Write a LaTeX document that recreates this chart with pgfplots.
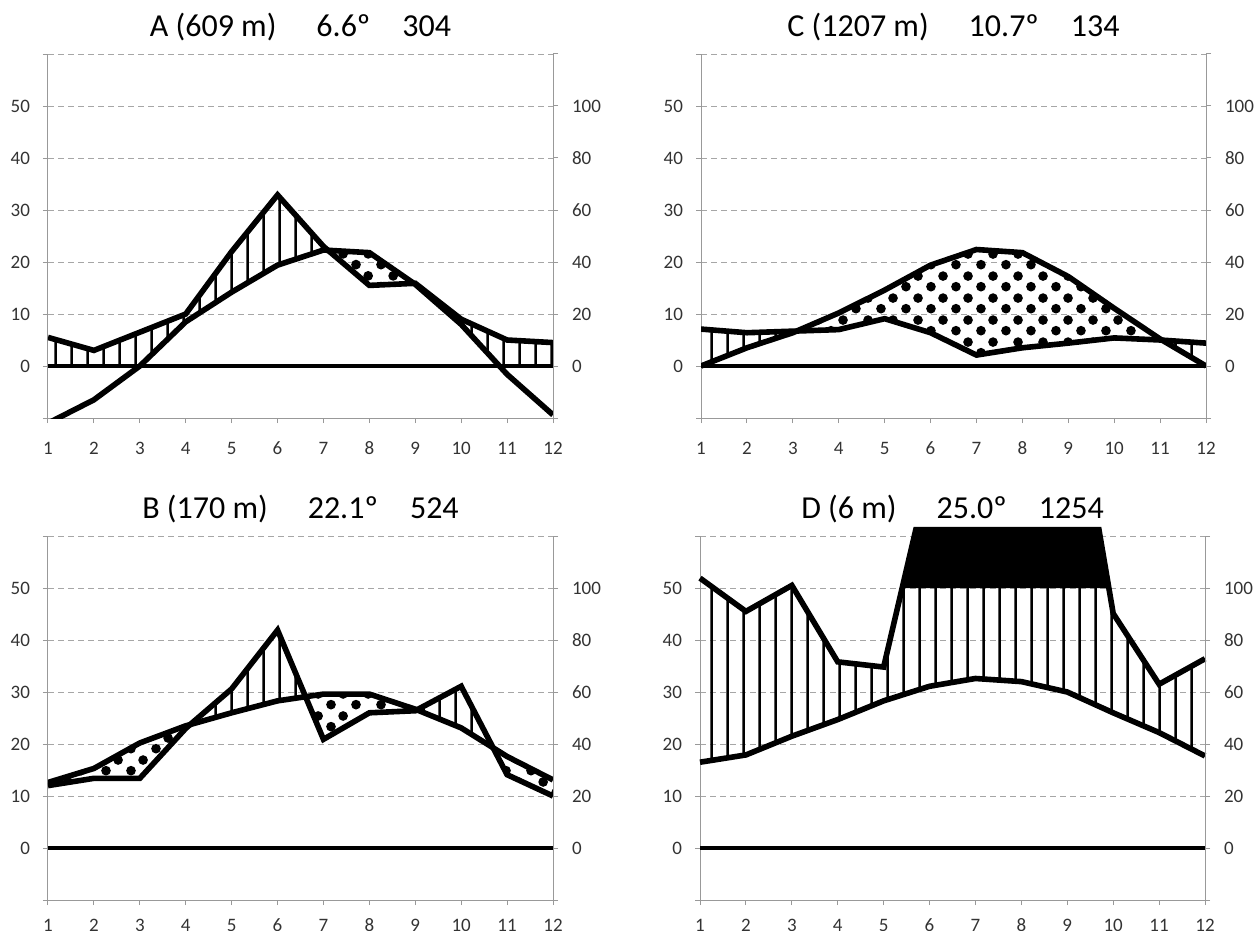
\documentclass[border=0pt]{standalone}
\usepackage{pgfplots}
\pgfplotsset{compat=1.18}
\usepackage{pgfplotstable}
\usetikzlibrary{patterns}
\usepackage{fontspec}
\setmainfont{Carlito}

\pgfdeclarepatternformonly{wlvl}{\pgfpoint{0pt}{0pt}}{\pgfpoint{8pt}{8pt}}{\pgfpoint{8pt}{8pt}}{%
  \pgfsetlinewidth{1.3pt}%
  \pgfpathmoveto{\pgfpoint{4pt}{-1pt}}\pgfpathlineto{\pgfpoint{4pt}{9pt}}\pgfusepath{stroke}}
\pgfdeclarepatternformonly{wldots}{\pgfpoint{0pt}{0pt}}{\pgfpoint{12.5pt}{11pt}}{\pgfpoint{12.5pt}{11pt}}{%
  \pgfpathcircle{\pgfpoint{3.1pt}{2.75pt}}{2.5pt}%
  \pgfpathcircle{\pgfpoint{9.35pt}{8.25pt}}{2.5pt}%
  \pgfusepath{fill}}

% monthly temperature (T, deg C) and precipitation/2 (P)
\pgfplotstableread{
m T P
1 -11 5.5
2 -6.5 3
3 0 6.5
4 8.5 10
5 14.2 22
6 19.4 32.9
7 22.3 23
8 21.8 15.5
9 15.7 15.9
10 8 9
11 -1.6 5
12 -9.4 4.5
}\dataA
\pgfplotstableread{
m T P
1 0 7.1
2 3.5 6.4
3 6.4 6.7
4 10.2 7
5 14.6 9.1
6 19.4 6.4
7 22.4 2.1
8 21.8 3.5
9 17.2 4.4
10 11.1 5.4
11 5.2 5.0
12 0 4.4
}\dataC
\pgfplotstableread{
m T P
1 12.6 12
2 15.3 13.4
3 20.2 13.4
4 23.5 23
5 26 30.6
6 28.3 41.9
7 29.6 20.9
8 29.6 26
9 26.7 26.4
10 23.1 31.1
11 17.6 14.1
12 13.1 10
}\dataB
\pgfplotstableread{
m T
1 16.5
2 17.9
3 21.5
4 24.7
5 28.3
6 31.1
7 32.6
8 32
9 30
10 26
11 22.2
12 17.7
}\dataDT
\pgfplotstableread{
m P
1 51.9
2 45.5
3 50.5
4 35.8
5 34.8
5.7 61.2
9.69 61.2
10 45.1
11 31.5
12 36.4
}\dataDP

\pgfplotsset{
  wlbase/.style={
    scale only axis, width=252.5pt, height=182pt,
    xmin=1, xmax=12,
    tick label style={font=\fontsize{9.5}{11}\selectfont, text=black!80},
    typeset ticklabels with strut,
    /pgf/number format/assume math mode=true,
    tick style={gray!80, line width=0.5pt},
    tick align=outside, major tick length=2.5pt,
    axis line style={gray!80, line width=0.5pt},
  },
  wlleft/.style={wlbase,
    ymin=-10, ymax=60,
    axis x line*=bottom, axis y line*=left,
    xtick={1,...,12},
    ytick={-10,0,...,60},
    yticklabels={,0,10,20,30,40,50,},
    yticklabel style={xshift=-3pt, yshift=-1.1pt},
    ymajorgrids,
    major grid style={gray!70, dash pattern=on 3pt off 2pt, line width=0.5pt},
    title style={font=\fontsize{16}{19}\selectfont, anchor=center, yshift=7.5pt},
  },
  wlright/.style={wlbase,
    ymin=-20, ymax=120,
    axis y line*=right, axis x line=none,
    ytick={-20,0,...,120},
    yticklabels={,0,20,40,60,80,100,},
    yticklabel style={xshift=3.5pt, yshift=-1.1pt},
  },
  thickline/.style={black, line width=2.8pt},
  humid/.style={draw=none, pattern=wlvl},
  arid/.style={draw=none, pattern=wldots},
}

\begin{document}
\begin{tikzpicture}
\path[use as bounding box] (0,0) rectangle (628pt,-465pt);

% ---------------- A ----------------
\begin{axis}[wlleft, at={(24pt,-209pt)}, anchor=south west,
  xticklabel style={yshift=-4.5pt},
  title={A (609 m)\hspace{20pt}6.6º\hspace{16pt}304}]
\addplot[black, line width=1.6pt] coordinates {(1,0) (12,0)};
\addplot[humid] coordinates {(1,5.5) (2,3) (3,6.5) (4,10) (5,22) (6,32.9) (7,23) (7.1,22.25)
  (7,22.3) (6,19.4) (5,14.2) (4,8.5) (3,0) (1,0)} -- cycle;
\addplot[arid] coordinates {(7.1,22.25) (8,15.5) (8.969,15.89) (8,21.8)} -- cycle;
\addplot[humid] coordinates {(8.969,15.89) (9,15.9) (10,9) (11,5) (12,4.5)
  (12,0) (10.833,0) (10,8) (9,15.7)} -- cycle;
\addplot[thickline] table[x=m,y=P]{\dataA};
\addplot[thickline] table[x=m,y=T]{\dataA};
\end{axis}
\begin{axis}[wlright, at={(24pt,-209pt)}, anchor=south west]
\addplot[draw=none] coordinates {(1,0) (12,0)};
\end{axis}

% ---------------- C ----------------
\begin{axis}[wlleft, at={(350.5pt,-209pt)}, anchor=south west,
  xticklabel style={yshift=-4.5pt},
  title={C (1207 m)\hspace{20pt}10.7º\hspace{16pt}134}]
\addplot[black, line width=1.6pt] coordinates {(1,0) (12,0)};
\addplot[humid] coordinates {(1,7.1) (2,6.4) (3,6.7) (3.086,6.726) (3,6.4) (2,3.5) (1,0)} -- cycle;
\addplot[arid] coordinates {(3.086,6.726) (4,10.2) (5,14.6) (6,19.4) (7,22.4) (8,21.8) (9,17.2)
  (10,11.1) (11,5.2) (11.043,4.974) (11,5.0) (10,5.4) (9,4.4) (8,3.5) (7,2.1) (6,6.4) (5,9.1) (4,7)} -- cycle;
\addplot[humid] coordinates {(11.043,4.974) (12,4.4) (12,0)} -- cycle;
\addplot[thickline] table[x=m,y=P]{\dataC};
\addplot[thickline] table[x=m,y=T]{\dataC};
\end{axis}
\begin{axis}[wlright, at={(350.5pt,-209pt)}, anchor=south west]
\addplot[draw=none] coordinates {(1,0) (12,0)};
\end{axis}

% ---------------- B ----------------
\begin{axis}[wlleft, at={(24pt,-450pt)}, anchor=south west,
  xticklabel style={yshift=-2pt},
  title={B (170 m)\hspace{20pt}22.1º\hspace{16pt}524}]
\addplot[black, line width=1.6pt] coordinates {(1,0) (12,0)};
\addplot[arid] coordinates {(1,12.6) (2,15.3) (3,20.2) (4,23.5) (4.098,23.745)
  (4,23) (3,13.4) (2,13.4) (1,12)} -- cycle;
\addplot[humid] coordinates {(4.098,23.745) (5,30.6) (6,41.9) (6.61,29.09) (6,28.3) (5,26)} -- cycle;
\addplot[arid] coordinates {(6.61,29.09) (7,29.6) (8,29.6) (9,26.7) (9.036,26.57)
  (9,26.4) (8,26) (7,20.9)} -- cycle;
\addplot[humid] coordinates {(9.036,26.57) (10,31.1) (10.696,19.27) (10,23.1)} -- cycle;
\addplot[arid] coordinates {(10.696,19.27) (11,17.6) (12,13.1) (12,10) (11,14.1)} -- cycle;
\addplot[thickline] table[x=m,y=P]{\dataB};
\addplot[thickline] table[x=m,y=T]{\dataB};
\end{axis}
\begin{axis}[wlright, at={(24pt,-450pt)}, anchor=south west]
\addplot[draw=none] coordinates {(1,0) (12,0)};
\end{axis}

% ---------------- D ----------------
\begin{axis}[wlleft, at={(350pt,-450pt)}, anchor=south west, clip=false,
  xticklabel style={yshift=-2pt},
  title={D (6 m)\hspace{20pt}25.0º\hspace{16pt}1254}]
\addplot[black, line width=1.6pt] coordinates {(1,0) (12,0)};
\addplot[humid] coordinates {(1,51.9) (2,45.5) (3,50.5) (4,35.8) (5,34.8) (5.403,50) (9.906,50)
  (10,45.1) (11,31.5) (12,36.4) (12,17.7) (11,22.2) (10,26) (9,30) (8,32) (7,32.6) (6,31.1)
  (5,28.3) (4,24.7) (3,21.5) (2,17.9) (1,16.5)} -- cycle;
\addplot[fill=black, draw=none] coordinates {(5.403,50) (5.7,61.2) (9.69,61.2) (9.906,50)} -- cycle;
\addplot[thickline] table[x=m,y=P]{\dataDP};
\addplot[thickline] table[x=m,y=T]{\dataDT};
\end{axis}
\begin{axis}[wlright, at={(350pt,-450pt)}, anchor=south west]
\addplot[draw=none] coordinates {(1,0) (12,0)};
\end{axis}
\end{tikzpicture}
\end{document}
